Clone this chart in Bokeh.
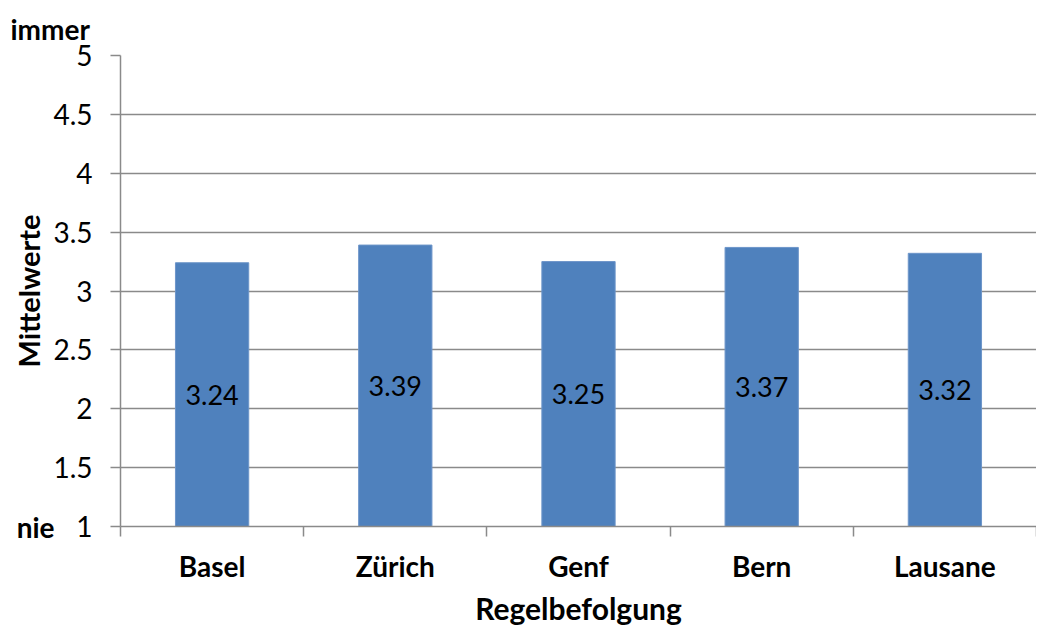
from bokeh.plotting import figure
from bokeh.models import (Range1d, FixedTicker, NumeralTickFormatter, LinearAxis,
                          ColumnDataSource, Title)
from bokeh.core.properties import value
from bokeh.embed import file_html
from bokeh.resources import INLINE
import numpy as np

cities = ["Basel", "Zürich", "Genf", "Bern", "Lausane"]
means = [3.24, 3.39, 3.25, 3.37, 3.32]
y_ticks = [1, 1.5, 2, 2.5, 3, 3.5, 4, 4.5, 5]
x_title = "Regelbefolgung"
y_title = "Mittelwerte"
top_label = "immer"
bottom_label = "nie"

FONT = "Lato"
BAR = "#4F81BD"
GRAY = "#8a8a8a"

idx = np.arange(len(cities))
centers = (idx + 0.5).tolist()
bounds = list(range(len(cities) + 1))
ymin, ymax = y_ticks[0], y_ticks[-1]

src = ColumnDataSource(dict(
    x=centers, top=means, mid=[(m + ymin) / 2 for m in means],
    lbl=[f"{m:.2f}" for m in means]))

p = figure(width=1036, height=628, output_backend="svg", toolbar_location=None,
           x_range=Range1d(0, len(cities)), y_range=Range1d(ymin, ymax),
           min_border_left=120, min_border_right=0, min_border_top=54,
           min_border_bottom=100)
p.outline_line_color = None
p.xgrid.visible = False

p.vbar(x="x", top="top", bottom=ymin, width=0.4, source=src,
       fill_color=BAR, line_color="#6d95c9", line_width=1)
p.text(x="x", y="mid", text="lbl", source=src, text_align="center",
       text_baseline="middle", text_font=value(FONT), text_font_size="27px",
       text_color="black")

# y axis (numeric tick labels)
ya = p.yaxis[0]
ya.ticker = FixedTicker(ticks=y_ticks)
ya.formatter = NumeralTickFormatter(format="0.[0]")
ya.axis_line_color = GRAY
ya.axis_line_width = 1.5
ya.major_tick_line_color = GRAY
ya.major_tick_line_width = 1.5
ya.major_tick_out = 10
ya.major_tick_in = 0
ya.minor_tick_line_color = None
ya.major_label_standoff = 18
ya.major_label_text_font = FONT
ya.major_label_text_font_size = "28px"
ya.major_label_text_color = "black"
p.ygrid.ticker = FixedTicker(ticks=y_ticks)
p.ygrid.grid_line_color = GRAY
p.ygrid.grid_line_width = 1.5

# outer y axis: "nie" at the bottom value and the axis title
ya2 = LinearAxis(ticker=FixedTicker(ticks=[ymin]),
                 major_label_overrides={ymin: bottom_label})
ya2.axis_line_color = None
ya2.major_tick_line_color = None
ya2.minor_tick_line_color = None
ya2.major_tick_out = 0
ya2.major_label_standoff = -4
ya2.major_label_text_font = FONT
ya2.major_label_text_font_style = "bold"
ya2.major_label_text_font_size = "28px"
ya2.major_label_text_color = "black"
ya2.axis_label = y_title
ya2.axis_label_text_font = FONT
ya2.axis_label_text_font_style = "bold"
ya2.axis_label_text_font_size = "29px"
ya2.axis_label_text_color = "black"
ya2.axis_label_standoff = -32
p.add_layout(ya2, "left")

# x axis
xa = p.xaxis[0]
xa.ticker = FixedTicker(ticks=centers, minor_ticks=bounds)
xa.major_label_overrides = {c: n for c, n in zip(centers, cities)}
xa.axis_line_color = GRAY
xa.axis_line_width = 1.5
xa.major_tick_line_color = None
xa.minor_tick_line_color = GRAY
xa.minor_tick_line_width = 1.5
xa.minor_tick_out = 10
xa.minor_tick_in = 0
xa.major_label_standoff = 12
xa.major_label_text_font = FONT
xa.major_label_text_font_style = "bold"
xa.major_label_text_font_size = "28px"
xa.major_label_text_color = "black"
xa.axis_label = x_title
xa.axis_label_text_font = FONT
xa.axis_label_text_font_style = "bold"
xa.axis_label_text_font_size = "30px"
xa.axis_label_text_color = "black"
xa.axis_label_standoff = 4

p.add_layout(Title(text=top_label, align="left", offset=-110, standoff=19,
                   text_font=FONT, text_font_style="bold", text_font_size="28px",
                   text_color="black"), "above")

open("out.html", "w").write(file_html(p, INLINE))
